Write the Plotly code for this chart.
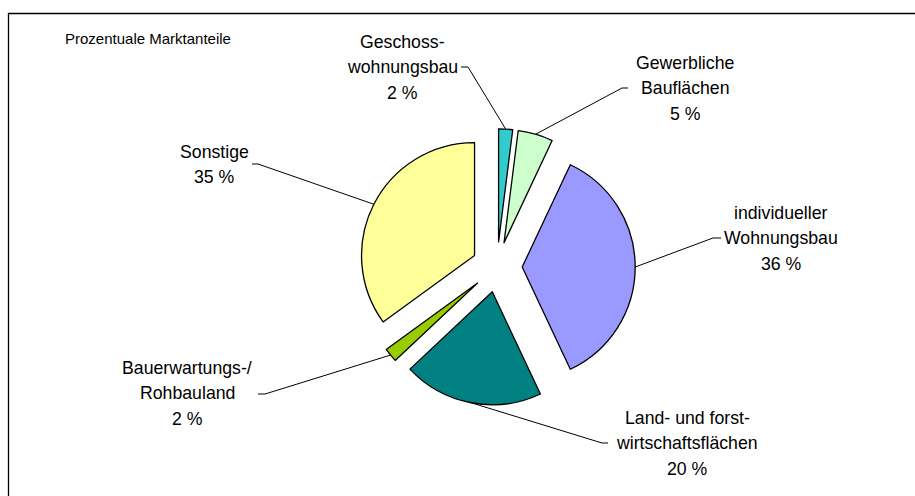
import math
import plotly.graph_objects as go

# ---- data ----
categories = ["Geschosswohnungsbau", "Gewerbliche Bauflächen", "individueller Wohnungsbau",
              "Land- und forstwirtschaftsflächen", "Bauerwartungs-/Rohbauland", "Sonstige"]
label_lines = [["Geschoss-", "wohnungsbau"], ["Gewerbliche", "Bauflächen"],
               ["individueller", "Wohnungsbau"], ["Land- und forst-", "wirtschaftsflächen"],
               ["Bauerwartungs-/", "Rohbauland"], ["Sonstige"]]
shares = [2, 5, 36, 20, 2, 35]
colors = ["#33CCCC", "#CCFFCC", "#9999FF", "#008080", "#99CC00", "#FFFF99"]
title_text = "Prozentuale Marktanteile"

# ---- layout (pixels) ----
W, H = 915, 496
CX, CY, R, PULL = 497, 267, 113, 0.223
FONT = "Liberation Sans, Arial, sans-serif"
FS = 17.7
TITLE_FS = 15
LINE_PITCH = 25.3
label_pos = [(402, 42), (685, 63), (781, 213), (687, 418), (187, 368), (214, 152)]
leader_end = [(468, 67), (622, 88), (713, 238), (602, 443), (265, 394), (258, 164)]
tick_dx = [-7, 6, 8, 6, -7, -6]


def px(x):
    return x / W


def py(y):
    return 1 - y / H


half = R * (1 + PULL)
fig = go.Figure(go.Pie(
    values=shares, labels=categories, sort=False, direction="clockwise", rotation=0,
    marker=dict(colors=colors, line=dict(color="black", width=1.3)),
    pull=[PULL] * len(shares), textinfo="none", hoverinfo="label+percent",
    showlegend=False,
    domain=dict(x=[px(CX - half), px(CX + half)], y=[py(CY + half), py(CY - half)]),
))

annotations = [dict(text=title_text, x=px(63), y=py(38), xref="paper", yref="paper",
                    xanchor="left", yanchor="middle", showarrow=False,
                    font=dict(family=FONT, size=TITLE_FS, color="black"))]
shapes = [dict(type="rect", xref="paper", yref="paper", x0=px(8.5), y0=py(13.5), x1=px(W + 20),
               y1=py(H + 20), line=dict(color="black", width=1.3), fillcolor="rgba(0,0,0,0)")]

total = sum(shares)
cum = 0
for i, v in enumerate(shares):
    m = (cum + v / 2) / total
    cum += v
    th = 2 * math.pi * m
    ax = CX + R * (1 + PULL) * math.sin(th)
    ay = CY - R * (1 + PULL) * math.cos(th)
    ex, ey = leader_end[i]
    path = f"M {px(ax)} {py(ay)} L {px(ex)} {py(ey)} L {px(ex + tick_dx[i])} {py(ey)}"
    shapes.append(dict(type="path", xref="paper", yref="paper", path=path,
                       line=dict(color="black", width=1)))
    lines = label_lines[i] + [f"{v} %"]
    lx, ly = label_pos[i]
    for k, t in enumerate(lines):
        annotations.append(dict(text=t, x=px(lx), y=py(ly + k * LINE_PITCH), xref="paper",
                                yref="paper", xanchor="center", yanchor="middle",
                                showarrow=False, font=dict(family=FONT, size=FS, color="black")))

fig.update_layout(width=W, height=H, margin=dict(l=0, r=0, t=0, b=0),
                  paper_bgcolor="white", plot_bgcolor="white",
                  annotations=annotations, shapes=shapes)
fig.write_html("out.html", config={"displayModeBar": False},
               post_script="document.body.style.margin='0';")
